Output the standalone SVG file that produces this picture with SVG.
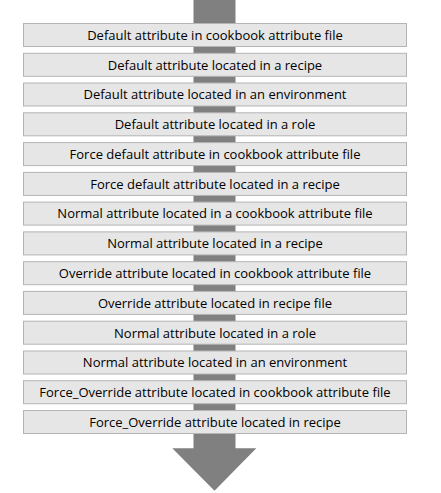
<svg xmlns="http://www.w3.org/2000/svg" width="441" height="493" viewBox="0 0 441 493">
<style>
.box{fill:#e6e6e6;stroke:#b4b4b4;stroke-width:1}
.lbl{font-family:"Open Sans","Liberation Sans",Arial,sans-serif;font-size:13px;fill:#000;text-anchor:middle}
.arrow{fill:#808080}
</style>
<rect width="441" height="493" fill="#ffffff"/>
<g id="connectors">
<path class="arrow" d="M193.5,0 H235.5 V448.3 H256.3 L214.5,490.7 L172.3,448.3 H193.5 Z"/>
</g>
<g id="n1"><rect class="box" x="23.5" y="23.5" width="383" height="23"/><text class="lbl" x="215" y="39.8">Default attribute in cookbook attribute file</text></g>
<g id="n2"><rect class="box" x="23.5" y="53.3" width="383" height="23"/><text class="lbl" x="215" y="69.6">Default attribute located in a recipe</text></g>
<g id="n3"><rect class="box" x="23.5" y="83.0" width="383" height="23"/><text class="lbl" x="215" y="99.3">Default attribute located in an environment</text></g>
<g id="n4"><rect class="box" x="23.5" y="112.8" width="383" height="23"/><text class="lbl" x="215" y="129.1">Default attribute located in a role</text></g>
<g id="n5"><rect class="box" x="23.5" y="142.6" width="383" height="23"/><text class="lbl" x="215" y="158.9">Force default attribute in cookbook attribute file</text></g>
<g id="n6"><rect class="box" x="23.5" y="172.4" width="383" height="23"/><text class="lbl" x="215" y="188.7">Force default attribute located in a recipe</text></g>
<g id="n7"><rect class="box" x="23.5" y="202.1" width="383" height="23"/><text class="lbl" x="215" y="218.4">Normal attribute located in a cookbook attribute file</text></g>
<g id="n8"><rect class="box" x="23.5" y="231.9" width="383" height="23"/><text class="lbl" x="215" y="248.2">Normal attribute located in a recipe</text></g>
<g id="n9"><rect class="box" x="23.5" y="261.7" width="383" height="23"/><text class="lbl" x="215" y="278.0">Override attribute located in cookbook attribute file</text></g>
<g id="n10"><rect class="box" x="23.5" y="291.4" width="383" height="23"/><text class="lbl" x="215" y="307.7">Override attribute located in recipe file</text></g>
<g id="n11"><rect class="box" x="23.5" y="321.2" width="383" height="23"/><text class="lbl" x="215" y="337.5">Normal attribute located in a role</text></g>
<g id="n12"><rect class="box" x="23.5" y="351.0" width="383" height="23"/><text class="lbl" x="215" y="367.3">Normal attribute located in an environment</text></g>
<g id="n13"><rect class="box" x="23.5" y="380.7" width="383" height="23"/><text class="lbl" x="215" y="397.0">Force_Override attribute located in cookbook attribute file</text></g>
<g id="n14"><rect class="box" x="23.5" y="410.5" width="383" height="23"/><text class="lbl" x="215" y="426.8">Force_Override attribute located in recipe</text></g>
</svg>
